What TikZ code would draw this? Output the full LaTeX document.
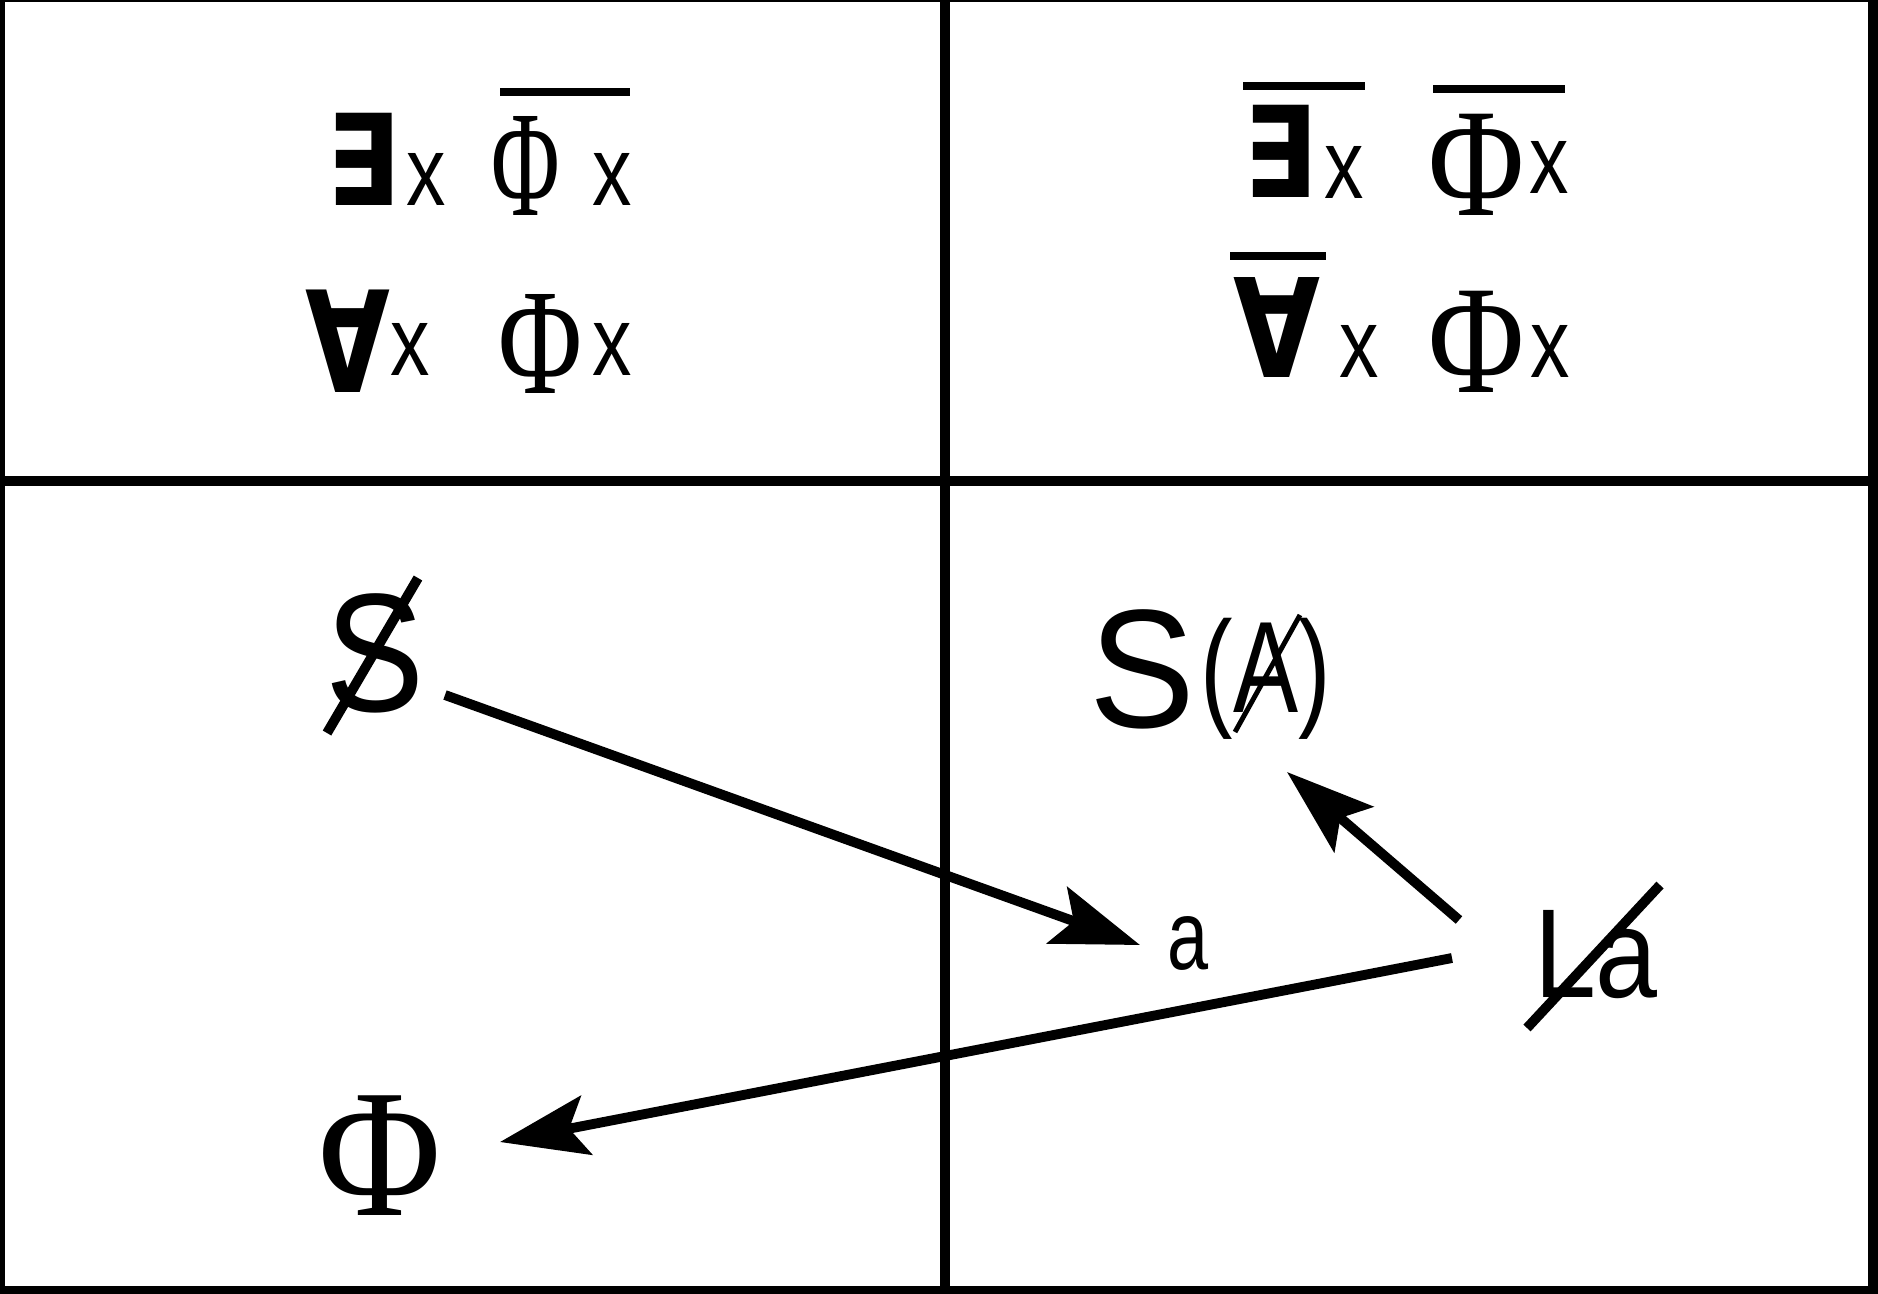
\documentclass[tikz,border=0pt]{standalone}
\usepackage{fontspec}
\setmainfont{Liberation Sans}
\newfontfamily\phifont{Liberation Serif}
\newfontfamily\quantfont{DejaVu Sans}
\usetikzlibrary{arrows.meta}
\usetikzlibrary{calc}
\newcommand{\fsz}[1]{\fontsize{#1}{#1}\selectfont}

\begin{document}
\begin{tikzpicture}[x=0.01cm, y=-0.01cm,
    glyph/.style={inner sep=0pt, anchor=base},
    gridline/.style={line width=3.1pt, black},
    bar/.style={line width=2.3pt, black},
    arr/.style={line width=2.8pt, -{Stealth[length=25pt, width=17pt, inset=5pt]}}]
    \useasboundingbox (0,0) rectangle (1878,1293);
    % frame and the two dividers
    \draw[gridline] (0,-3) rectangle (1873,1291);
    \draw[gridline] (945,-3) -- (945,1291);
    \draw[gridline] (0,481) -- (1873,481);
    % top left cell
    \node[glyph, font=\quantfont\bfseries\fsz{36}] (ex1) at (363,205) {\scalebox{0.85}[1]{∃}};
    \node[glyph, font=\phifont\fsz{43}] (phi1) at (526,215) {\scalebox{0.62}[1]{Φ}};
    \node[glyph, font=\quantfont\bfseries\fsz{40}] (all1) at (348,392) {\scalebox{0.78}[1]{∀}};
    \node[glyph, font=\phifont\fsz{43}] (phi2) at (540,393) {\scalebox{0.76}[1]{Φ}};
    % top right cell
    \node[glyph, font=\quantfont\bfseries\fsz{36}] (ex2) at (1280,197) {\scalebox{0.85}[1]{∃}};
    \node[glyph, font=\phifont\fsz{44}] (phi3) at (1477,215) {\scalebox{0.85}[1]{Φ}};
    \node[glyph, font=\quantfont\bfseries\fsz{39}] (all2) at (1277,377) {\scalebox{0.82}[1]{∀}};
    \node[glyph, font=\phifont\fsz{44}] (phi4) at (1477,392) {\scalebox{0.85}[1]{Φ}};
    % the bound variables
    \foreach \n/\px/\py in {
          x1/426/205,
          x2/612/205,
          x3/410/375,
          x4/612/375,
          x5/1344/198,
          x6/1549/193,
          x7/1359/377,
          x8/1550/377
    } {
        \node[glyph, font=\fsz{28}] (\n) at (\px,\py) {\scalebox{0.8}[1]{x}};
    }
    % negation bars
    \foreach \xa/\xb/\yy in {500/630/92, 1243/1365/86, 1433/1565/89, 1230/1326/256} {
        \draw[bar] (\xa,\yy) -- (\xb,\yy);
    }
    % bottom cells
    \node[glyph, font=\fsz{48}] (sbar) at (375,711) {\scalebox{0.88}[1]{S}};
    \node[glyph, font=\fsz{28}] (aa) at (1188,969) {\scalebox{0.75}[1]{a}};
    \node[glyph, font=\fsz{48}] (sletter) at (1142,727) {\scalebox{0.94}[1]{S}};
    \node[glyph, font=\fsz{37}] (sarg) at (1266,712) {\scalebox{0.75}[1]{(A)}};
    \node[glyph, font=\fsz{36}] (la) at (1596,997) {\scalebox{0.88}[1]{La}};
    \node[glyph, font=\phifont\fsz{52}] (phi) at (380,1215) {\scalebox{0.92}[1]{Φ}};
    % strike-through slashes
    \draw[line width=2.8pt] (327,733) -- (418,578);
    \draw[line width=1.4pt] (1235,732) -- (1300,615);
    \draw[line width=2.8pt] (1527,1028) -- (1660,885);
    % arrows
    \draw[arr] ($(sbar.base)+(70,-16)$) -- ($(aa.base)+(-48,-24)$);
    \draw[arr] ($(la.base)+(-137,-77)$) -- ($(sarg.base)+(21,60)$);
    \draw[arr] ($(la.base)+(-144,-39)$) -- ($(phi.base)+(120,-73)$);
\end{tikzpicture}
\end{document}
